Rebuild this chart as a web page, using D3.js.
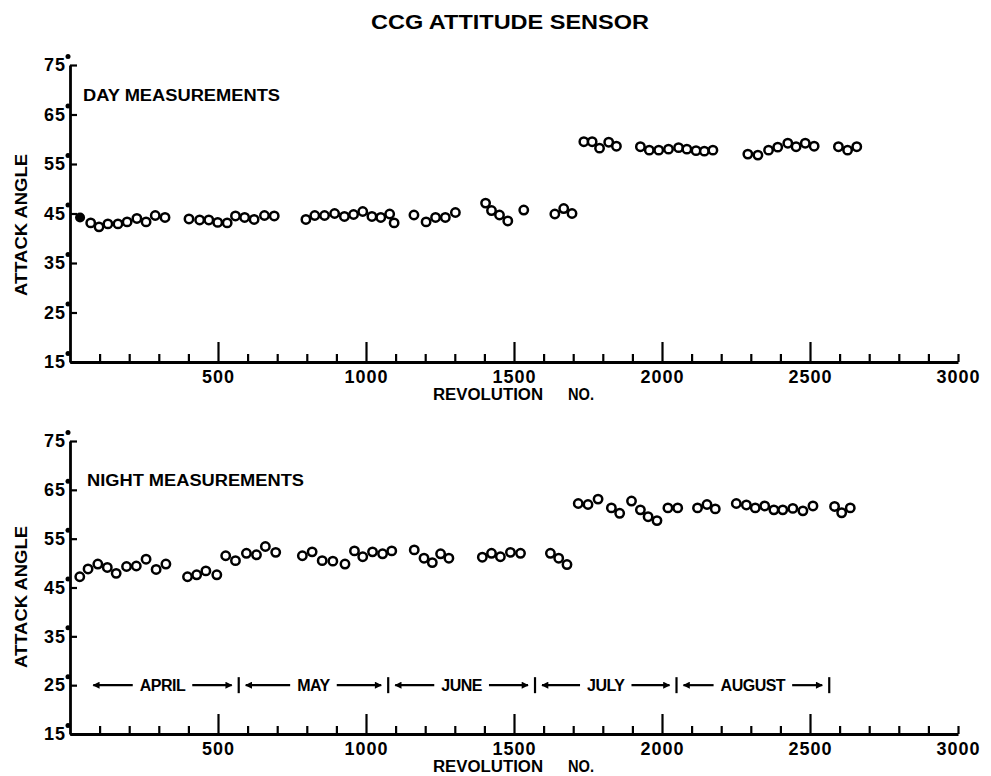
<!DOCTYPE html>
<html>
<head>
<meta charset="utf-8">
<script src="https://cdn.jsdelivr.net/npm/d3@7"></script>
<style>
  body { margin: 0; background: #fff; }
  text { font-family: "Liberation Sans", Arial, sans-serif; font-weight: bold; fill: #000; }
</style>
</head>
<body>
<svg id="chart" width="991" height="776"></svg>
<script>
// day measurements (revolution no., attack angle in degrees)
var dayFilledRev = [34];
var dayFilledAngle = [44.2];
var dayRev = [70, 98, 128, 162, 193, 226, 257, 288, 321,
  402, 438, 469, 499, 531, 559, 590, 622, 657, 690,
  797, 827, 860, 894, 927, 958, 989, 1020, 1050, 1080, 1095,
  1162, 1203, 1235, 1268, 1302,
  1404, 1424, 1451, 1479, 1533,
  1638, 1668, 1696,
  1736, 1764, 1789, 1820, 1846,
  1927, 1957, 1989, 2022, 2056, 2084, 2115, 2143, 2172,
  2290, 2324, 2360, 2391, 2425, 2453, 2484, 2514,
  2596, 2627, 2658];
var dayAngle = [43.1, 42.3, 42.9, 42.9, 43.3, 44.0, 43.3, 44.6, 44.2,
  43.9, 43.7, 43.7, 43.2, 43.1, 44.5, 44.2, 43.8, 44.6, 44.5,
  43.8, 44.6, 44.6, 45.0, 44.4, 44.8, 45.4, 44.4, 44.2, 44.9, 43.1,
  44.7, 43.3, 44.2, 44.2, 45.2,
  47.1, 45.6, 44.7, 43.5, 45.7,
  44.9, 46.0, 45.0,
  59.5, 59.5, 58.2, 59.4, 58.6,
  58.5, 57.8, 57.8, 58.0, 58.3, 58.0, 57.7, 57.6, 57.8,
  57.0, 56.8, 57.8, 58.4, 59.2, 58.5, 59.2, 58.6,
  58.5, 57.8, 58.5];

// night measurements
var nightRev = [33, 61, 94, 126, 156, 191, 224, 257, 291, 324,
  397, 428, 459, 496, 526, 559, 596, 630, 660, 695,
  785, 818, 852, 888, 929, 961, 989, 1022, 1056, 1087,
  1163, 1196, 1224, 1252, 1280,
  1393, 1424, 1454, 1488, 1522,
  1623, 1651, 1679,
  1717, 1750, 1784, 1829, 1857, 1897, 1927, 1953, 1983, 2020, 2053,
  2120, 2152, 2180,
  2251, 2285, 2315, 2347, 2378, 2408, 2442, 2476, 2510,
  2583, 2607, 2636];
var nightAngle = [47.2, 48.8, 49.8, 49.1, 47.9, 49.3, 49.4, 50.8, 48.7, 49.8,
  47.2, 47.6, 48.4, 47.6, 51.5, 50.5, 52.0, 51.7, 53.4, 52.2,
  51.5, 52.3, 50.5, 50.4, 49.8, 52.5, 51.3, 52.3, 51.9, 52.5,
  52.7, 51.0, 50.1, 51.9, 51.0,
  51.2, 52.0, 51.3, 52.2, 52.0,
  52.0, 51.0, 49.7,
  62.2, 62.0, 63.1, 61.3, 60.2, 62.7, 60.9, 59.5, 58.7, 61.3, 61.3,
  61.3, 62.0, 61.1,
  62.2, 61.9, 61.3, 61.7, 60.9, 60.9, 61.2, 60.7, 61.7,
  61.6, 60.3, 61.3];

var yTicks = [15, 25, 35, 45, 55, 65, 75];
var xMajorTicks = [500, 1000, 1500, 2000, 2500, 3000];
var monthNames = ["APRIL", "MAY", "JUNE", "JULY", "AUGUST"];
var monthBounds = [55, 570, 1075, 1571, 2049, 2565];
var monthLevel = 25;

var svg = d3.select("#chart");
var x = d3.scaleLinear().domain([0, 3000]).range([70, 958]);

svg.append("defs").append("marker")
    .attr("id", "arrow")
    .attr("viewBox", "0 0 10 10")
    .attr("refX", 9).attr("refY", 5)
    .attr("markerWidth", 9).attr("markerHeight", 7)
    .attr("markerUnits", "userSpaceOnUse")
    .attr("orient", "auto-start-reverse")
  .append("path")
    .attr("d", "M0,0 L10,5 L0,10 Z")
    .attr("fill", "#000");

svg.append("text")
    .attr("x", 510).attr("y", 29)
    .attr("text-anchor", "middle")
    .attr("font-size", 21)
    .attr("textLength", 278)
    .attr("lengthAdjust", "spacingAndGlyphs")
    .text("CCG ATTITUDE SENSOR");

function drawPanel(cfg) {
  var y = d3.scaleLinear().domain([15, 75]).range(cfg.yRange);
  var g = svg.append("g");

  // y axis, ticks pointing inward, degree dots on labels
  var yAxis = g.append("g")
      .attr("transform", "translate(" + x(0) + ",0)")
      .call(d3.axisLeft(y).tickValues(yTicks).tickSizeInner(-7).tickSizeOuter(0).tickPadding(4).tickFormat(d3.format("d")));
  yAxis.selectAll(".tick").append("circle")
      .attr("cx", -2).attr("cy", -9).attr("r", 2.5).attr("fill", "#000");

  // x axis, minor every 100, long majors every 500
  var xAxis = g.append("g")
      .attr("transform", "translate(0," + y(15) + ")")
      .call(d3.axisBottom(x).tickValues(d3.range(100, 3001, 100)).tickSizeInner(-8).tickSizeOuter(0).tickPadding(8)
        .tickFormat(d => xMajorTicks.includes(d) ? d : ""));
  xAxis.selectAll(".tick line")
      .filter(d => d % 500 === 0 && d < 3000)
      .attr("y2", -20);

  g.selectAll(".domain").attr("stroke", "#000").attr("stroke-width", 2.8);
  g.selectAll(".tick line").attr("stroke", "#000").attr("stroke-width", 2.2);
  g.selectAll(".tick text")
      .attr("font-size", 18)
      .attr("letter-spacing", 1)
      .attr("fill", "#000");

  g.append("text")
      .attr("transform", "translate(27," + cfg.yLabelY + ") rotate(-90)")
      .attr("text-anchor", "middle")
      .attr("font-size", 16)
      .attr("textLength", 142)
      .attr("lengthAdjust", "spacingAndGlyphs")
      .text("ATTACK ANGLE");

  g.append("text")
      .attr("x", 433).attr("y", y(15) + 38)
      .attr("font-size", 16)
      .attr("textLength", 110)
      .attr("lengthAdjust", "spacingAndGlyphs")
      .text("REVOLUTION");
  g.append("text")
      .attr("x", 568).attr("y", y(15) + 38)
      .attr("font-size", 16)
      .attr("textLength", 26)
      .attr("lengthAdjust", "spacingAndGlyphs")
      .text("NO.");

  g.append("text")
      .attr("x", cfg.labelX).attr("y", cfg.labelY)
      .attr("font-size", 16)
      .attr("textLength", cfg.labelLen)
      .attr("lengthAdjust", "spacingAndGlyphs")
      .text(cfg.label);

  var pts = cfg.rev.map((r, i) => ({rev: r, angle: cfg.angle[i]}));
  g.selectAll(".pt")
    .data(pts)
    .enter()
    .append("circle")
      .classed("pt", true)
      .attr("cx", d => x(d.rev))
      .attr("cy", d => y(d.angle))
      .attr("r", 4.2)
      .attr("fill", "#fff")
      .attr("stroke", "#000")
      .attr("stroke-width", 2.5);

  if (cfg.filledRev) {
    g.selectAll(".fpt")
      .data(cfg.filledRev.map((r, i) => ({rev: r, angle: cfg.filledAngle[i]})))
      .enter()
      .append("circle")
        .classed("fpt", true)
        .attr("cx", d => x(d.rev))
        .attr("cy", d => y(d.angle))
        .attr("r", 5)
        .attr("fill", "#000");
  }
  return y;
}

drawPanel({yRange: [362, 65], yLabelY: 225, label: "DAY MEASUREMENTS", labelX: 83, labelY: 101, labelLen: 197,
  rev: dayRev, angle: dayAngle, filledRev: dayFilledRev, filledAngle: dayFilledAngle});

var yNight = drawPanel({yRange: [734, 441], yLabelY: 597, label: "NIGHT MEASUREMENTS", labelX: 87, labelY: 486, labelLen: 217,
  rev: nightRev, angle: nightAngle});

// month spans along the 25 degree level
var my = yNight(monthLevel);
var months = svg.append("g");
months.selectAll(".sep")
  .data(monthBounds.slice(1))
  .enter()
  .append("line")
    .attr("x1", d => x(d)).attr("x2", d => x(d))
    .attr("y1", my - 8).attr("y2", my + 8)
    .attr("stroke", "#000").attr("stroke-width", 2.2);

monthNames.forEach(function(name, i) {
  var a = x(monthBounds[i]), b = x(monthBounds[i + 1]);
  var t = months.append("text")
      .attr("x", (a + b) / 2).attr("y", my + 6)
      .attr("text-anchor", "middle")
      .attr("font-size", 16)
      .attr("letter-spacing", -0.5)
      .text(name);
  var w = t.node().getComputedTextLength();
  var left = (a + b) / 2 - w / 2, right = (a + b) / 2 + w / 2;
  months.append("line")
      .attr("x1", left - 7).attr("x2", a + 7)
      .attr("y1", my).attr("y2", my)
      .attr("stroke", "#000").attr("stroke-width", 2.2)
      .attr("marker-end", "url(#arrow)");
  months.append("line")
      .attr("x1", right + 7).attr("x2", b - 7)
      .attr("y1", my).attr("y2", my)
      .attr("stroke", "#000").attr("stroke-width", 2.2)
      .attr("marker-end", "url(#arrow)");
});
</script>
</body>
</html>
